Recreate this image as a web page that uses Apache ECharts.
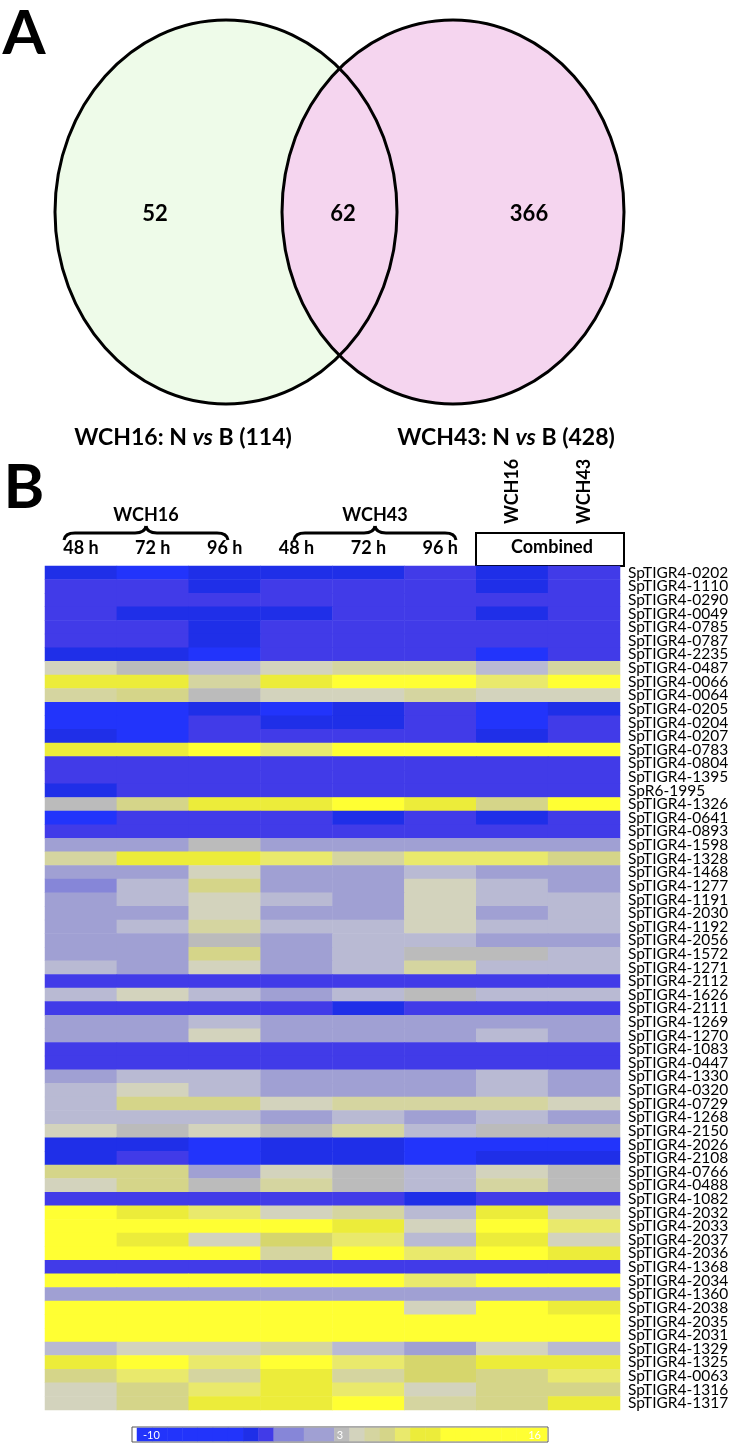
<!DOCTYPE html>
<html>
<head>
<meta charset="utf-8" />
<title>Venn + heatmap</title>
<script src="https://cdn.jsdelivr.net/npm/echarts@6/dist/echarts.min.js"></script>
<style>body{margin:0;background:#fff;}</style>
</head>
<body>
<div id="main" style="width:734px;height:1446px;"></div>
<script type="text/javascript">
// ---- panel A : Venn counts ----
var vennCounts = [52, 62, 366];          // only WCH16, shared, only WCH43
var vennSets = ['WCH16', 'WCH43'];
var vennTotals = [114, 428];

// ---- panel B : heatmap ----
var colLabels = ['48 h', '72 h', '96 h', '48 h', '72 h', '96 h', 'WCH16', 'WCH43'];
var genes = ['SpTIGR4-0202','SpTIGR4-1110','SpTIGR4-0290','SpTIGR4-0049','SpTIGR4-0785','SpTIGR4-0787','SpTIGR4-2235',
  'SpTIGR4-0487','SpTIGR4-0066','SpTIGR4-0064','SpTIGR4-0205','SpTIGR4-0204','SpTIGR4-0207','SpTIGR4-0783',
  'SpTIGR4-0804','SpTIGR4-1395','SpR6-1995','SpTIGR4-1326','SpTIGR4-0641','SpTIGR4-0893','SpTIGR4-1598',
  'SpTIGR4-1328','SpTIGR4-1468','SpTIGR4-1277','SpTIGR4-1191','SpTIGR4-2030','SpTIGR4-1192','SpTIGR4-2056',
  'SpTIGR4-1572','SpTIGR4-1271','SpTIGR4-2112','SpTIGR4-1626','SpTIGR4-2111','SpTIGR4-1269','SpTIGR4-1270',
  'SpTIGR4-1083','SpTIGR4-0447','SpTIGR4-1330','SpTIGR4-0320','SpTIGR4-0729','SpTIGR4-1268','SpTIGR4-2150',
  'SpTIGR4-2026','SpTIGR4-2108','SpTIGR4-0766','SpTIGR4-0488','SpTIGR4-1082','SpTIGR4-2032','SpTIGR4-2033',
  'SpTIGR4-2037','SpTIGR4-2036','SpTIGR4-1368','SpTIGR4-2034','SpTIGR4-1360','SpTIGR4-2038','SpTIGR4-2035',
  'SpTIGR4-2031','SpTIGR4-1329','SpTIGR4-1325','SpTIGR4-0063','SpTIGR4-1316','SpTIGR4-1317'];

// WCH16 48 h / 72 h / 96 h
var wch16 = [
  [-3,-6,-3],[-1.5,-1.5,-3],[-1.5,-1.5,-1.5],[-1.5,-3,-3],[-1.5,-1.5,-3],[-1.5,-1.5,-3],[-3,-3,-6],
  [4,3.1,2.5],[8.3,8.3,5],[5,5.9,3.1],[-6,-6,-3],[-6,-6,-1.5],[-3,-6,-1.5],[8.3,8.3,12],
  [-1.5,-1.5,-1.5],[-1.5,-1.5,-1.5],[-3,-1.5,-1.5],[3.1,5.9,8.3],[-6,-1.5,-1.5],[-1.5,-1.5,-1.5],[1.5,1.5,3.1],
  [5,8.3,8.3],[1.5,1.5,4],[-0.5,2.5,5.9],[1.5,2.5,4],[1.5,1.5,4],[1.5,2.5,5],[1.5,1.5,3.1],
  [1.5,1.5,5.9],[2.5,1.5,4],[-1.5,-1.5,-1.5],[2.5,4,2.5],[-1.5,-1.5,-1.5],[1.5,1.5,2.5],[1.5,1.5,4],
  [-1.5,-1.5,-1.5],[-1.5,-1.5,-1.5],[1.5,2.5,2.5],[2.5,4,2.5],[2.5,5.9,5.9],[2.5,2.5,2.5],[4,3.1,4],
  [-3,-3,-6],[-3,-1.5,-6],[5.9,5.9,1.5],[4,5.9,3.1],[-1.5,-1.5,-1.5],[12,8.3,7],[12,12,12],
  [12,8.3,4],[12,12,12],[-1.5,-1.5,-1.5],[12,12,12],[1.5,1.5,1.5],[12,12,12],[12,12,12],
  [12,12,12],[2.5,4,4],[8.3,12,7],[5.9,7,5],[4,5.9,7],[4,5.9,8.3]
];
// WCH43 48 h / 72 h / 96 h
var wch43 = [
  [-3,-3,-1.5],[-1.5,-1.5,-1.5],[-1.5,-1.5,-1.5],[-3,-1.5,-1.5],[-1.5,-1.5,-1.5],[-1.5,-1.5,-1.5],[-1.5,-1.5,-1.5],
  [4,5,5],[8.3,12,12],[4,4,5],[-6,-3,-1.5],[-3,-3,-1.5],[-1.5,-1.5,-1.5],[7,12,12],
  [-1.5,-1.5,-1.5],[-1.5,-1.5,-1.5],[-1.5,-1.5,-1.5],[8.3,12,8.3],[-1.5,-3,-1.5],[-1.5,-1.5,-1.5],[1.5,1.5,1.5],
  [7,5,7],[1.5,1.5,2.5],[1.5,1.5,4],[2.5,1.5,4],[1.5,1.5,4],[2.5,2.5,4],[1.5,2.5,2.5],
  [1.5,2.5,3.1],[1.5,2.5,5],[-1.5,-1.5,-1.5],[1.5,2.5,3.1],[-1.5,-3,-1.5],[1.5,1.5,1.5],[1.5,1.5,1.5],
  [-1.5,-1.5,-1.5],[-1.5,-1.5,-1.5],[1.5,1.5,1.5],[1.5,1.5,1.5],[4,5,5],[1.5,2.5,1.5],[3.1,5,2.5],
  [-3,-3,-6],[-3,-3,-6],[4,3.1,2.5],[5,3.1,2.5],[-1.5,-1.5,-3],[4,5,2.5],[12,8.3,4],
  [6.4,7,2.5],[5,12,7],[-1.5,-1.5,-1.5],[12,12,7],[1.5,1.5,1.5],[12,12,4],[12,12,12],
  [12,12,12],[5,2.5,1.5],[12,7,6.4],[8.3,5,6.4],[8.3,7,4],[8.3,12,5]
];
// Combined WCH16 / WCH43
var combined = [
  [-3,-1.5],[-3,-1.5],[-1.5,-1.5],[-3,-1.5],[-1.5,-1.5],[-1.5,-1.5],[-6,-1.5],
  [2.5,5],[7,12],[4,4],[-6,-3],[-6,-1.5],[-3,-1.5],[12,12],
  [-1.5,-1.5],[-1.5,-1.5],[-1.5,-1.5],[5.9,12],[-3,-1.5],[-1.5,-1.5],[1.5,1.5],
  [7,5.9],[1.5,1.5],[2.5,1.5],[2.5,2.5],[1.5,2.5],[2.5,2.5],[1.5,1.5],
  [3.1,2.5],[2.5,2.5],[-1.5,-1.5],[2.5,2.5],[-1.5,-1.5],[1.5,1.5],[2.5,1.5],
  [-1.5,-1.5],[-1.5,-1.5],[2.5,1.5],[2.5,1.5],[5,4],[2.5,1.5],[3.1,3.1],
  [-6,-6],[-3,-3],[4,3.1],[5,3.1],[-1.5,-1.5],[8.3,4],[12,7],
  [8.3,4],[12,8.3],[-1.5,-1.5],[12,12],[1.5,1.5],[12,8.3],[12,12],
  [12,12],[4,2.5],[8.3,8.3],[5.9,7],[5.9,5.9],[5.9,8.3]
];
// colour key steps and labels
var scaleSteps = [-10,-9,-8,-7,-6,-5,-4,-3,-2,-1,0,1,2,3,4,5,6,7,8,9,10,11,12,13,14,15,16];
var scaleTicks = ['-10', '3', '16'];

var FONT = 'Lato';
var myChart = echarts.init(document.getElementById('main'));

var cells = [];
genes.forEach(function (g, r) {
    var row = wch16[r].concat(wch43[r], combined[r]);
    row.forEach(function (v, c) { cells.push([c, r, v]); });
});
var keyCells = scaleSteps.map(function (v, i) { return [i, 0, v]; });

function brace(x0, x1, y) {
    var m = (x0 + x1) / 2, st = {stroke: '#000', lineWidth: 3, fill: null};
    return [
        {type: 'bezierCurve', shape: {x1: x0, y1: y + 7, cpx1: x0 + 1, cpy1: y, x2: x0 + 11, y2: y}, style: st},
        {type: 'line', shape: {x1: x0 + 11, y1: y, x2: m - 11, y2: y}, style: st},
        {type: 'bezierCurve', shape: {x1: m - 11, y1: y, cpx1: m - 1, cpy1: y, x2: m, y2: y - 7}, style: st},
        {type: 'bezierCurve', shape: {x1: m, y1: y - 7, cpx1: m + 1, cpy1: y, x2: m + 11, y2: y}, style: st},
        {type: 'line', shape: {x1: m + 11, y1: y, x2: x1 - 11, y2: y}, style: st},
        {type: 'bezierCurve', shape: {x1: x1 - 11, y1: y, cpx1: x1 - 1, cpy1: y, x2: x1, y2: y + 7}, style: st}
    ];
}

var boldTxt = function (t, x, y, size, extra) {
    var s = {text: t, x: x, y: y, fontFamily: FONT, fontWeight: 'bold', fontSize: size, fill: '#000',
        align: 'center', verticalAlign: 'middle'};
    if (extra) Object.keys(extra).forEach(function (k) { s[k] = extra[k]; });
    return {type: 'text', style: s};
};
var setLabel = function (i) {
    return vennSets[i] + ': N {i|vs} B (' + vennTotals[i] + ')';
};
var rich = {i: {fontStyle: 'italic', fontWeight: 'bold', fontFamily: FONT, fontSize: 23}};

var graphics = [
    boldTxt('A', 24, 34, 62),
    {type: 'ellipse', shape: {cx: 226, cy: 212, rx: 171, ry: 192}, style: {fill: '#eefbe9'}},
    {type: 'ellipse', shape: {cx: 453, cy: 212, rx: 171, ry: 192}, style: {fill: '#f5d5ef'}},
    {type: 'ellipse', shape: {cx: 226, cy: 212, rx: 171, ry: 192}, style: {fill: null, stroke: '#000', lineWidth: 3}},
    {type: 'ellipse', shape: {cx: 453, cy: 212, rx: 171, ry: 192}, style: {fill: null, stroke: '#000', lineWidth: 3}},
    boldTxt(String(vennCounts[0]), 155, 214, 22),
    boldTxt(String(vennCounts[1]), 343, 214, 22),
    boldTxt(String(vennCounts[2]), 529, 214, 22),
    boldTxt(setLabel(0), 183, 438, 23, {rich: rich}),
    boldTxt(setLabel(1), 506, 438, 23, {rich: rich}),
    boldTxt('B', 24, 488, 62),
    boldTxt(vennSets[0], 146, 515, 18),
    boldTxt(vennSets[1], 375, 515, 18),
    {type: 'rect', shape: {x: 476, y: 533, width: 148, height: 33}, style: {fill: null, stroke: '#000', lineWidth: 2}},
    boldTxt('Combined', 552, 547, 18),
    {type: 'rect', shape: {x: 132, y: 1427, width: 416, height: 15}, style: {fill: null, stroke: '#555', lineWidth: 1}},
    {type: 'text', z: 10, style: {text: scaleTicks[0], x: 143, y: 1435, fontFamily: FONT, fontSize: 11, fill: '#fff', verticalAlign: 'middle'}},
    {type: 'text', z: 10, style: {text: scaleTicks[1], x: 340, y: 1435, fontFamily: FONT, fontSize: 11, fill: '#fff', align: 'center', verticalAlign: 'middle'}},
    {type: 'text', z: 10, style: {text: scaleTicks[2], x: 541, y: 1435, fontFamily: FONT, fontSize: 11, fill: '#fff', align: 'right', verticalAlign: 'middle'}}
].concat(brace(64, 228, 533), brace(294, 456, 533));

var option = {
    animation: false,
    backgroundColor: '#fff',
    grid: [
        {left: 45, top: 566, width: 575, height: 844},
        {left: 137, top: 1428, width: 410, height: 13}
    ],
    xAxis: [
        {type: 'category', gridIndex: 0, position: 'top', data: colLabels,
            axisLine: {show: false}, axisTick: {show: false}, splitLine: {show: false},
            axisLabel: {interval: 0, margin: 9, fontFamily: FONT, fontWeight: 'bold', fontSize: 18, color: '#000',
                formatter: function (v, i) { return i < 6 ? v : ''; }}},
        {type: 'category', gridIndex: 0, position: 'top', offset: 42, data: colLabels,
            axisLine: {show: false}, axisTick: {show: false}, splitLine: {show: false},
            axisLabel: {interval: 0, rotate: -90, margin: 0, fontFamily: FONT, fontWeight: 'bold', fontSize: 18, color: '#000',
                formatter: function (v, i) { return i >= 6 ? v : ''; }}},
        {type: 'category', gridIndex: 1, data: scaleSteps, show: false}
    ],
    yAxis: [
        {type: 'category', gridIndex: 0, data: genes, inverse: true, position: 'right',
            axisLine: {show: false}, axisTick: {show: false}, splitLine: {show: false},
            axisLabel: {interval: 0, margin: 8, align: 'left', fontFamily: FONT, fontSize: 15.5, color: '#000'}},
        {type: 'category', gridIndex: 1, data: ['key'], show: false}
    ],
    visualMap: {
        type: 'piecewise', show: false, seriesIndex: [0, 1], dimension: 2,
        pieces: [
            {gte: -10, lt: -3.3, color: '#2234fb'},
            {gte: -3.3, lt: -2.3, color: '#1f2fe8'},
            {gte: -2.3, lt: -1, color: '#413be8'},
            {gte: -1, lt: 0.5, color: '#8686d8'},
            {gte: 0.5, lt: 2.2, color: '#a0a0d3'},
            {gte: 2.2, lt: 2.9, color: '#b9bad3'},
            {gte: 2.9, lt: 3.4, color: '#bbbbbb'},
            {gte: 3.4, lt: 4.5, color: '#d3d3bd'},
            {gte: 4.5, lt: 5.5, color: '#d5d5a0'},
            {gte: 5.5, lt: 6.2, color: '#d5d589'},
            {gte: 6.2, lt: 6.6, color: '#d6d66c'},
            {gte: 6.6, lt: 7.6, color: '#e9e96c'},
            {gte: 7.6, lt: 9.3, color: '#ecec3a'},
            {gte: 9.3, lte: 16, color: '#ffff33'}
        ]
    },
    series: [
        {type: 'heatmap', xAxisIndex: 0, yAxisIndex: 0, data: cells,
            itemStyle: {borderWidth: 0}, emphasis: {disabled: true}},
        {type: 'heatmap', xAxisIndex: 2, yAxisIndex: 1, data: keyCells,
            itemStyle: {borderWidth: 0}, emphasis: {disabled: true}}
    ],
    graphic: graphics
};
myChart.setOption(option);
</script>
</body>
</html>
